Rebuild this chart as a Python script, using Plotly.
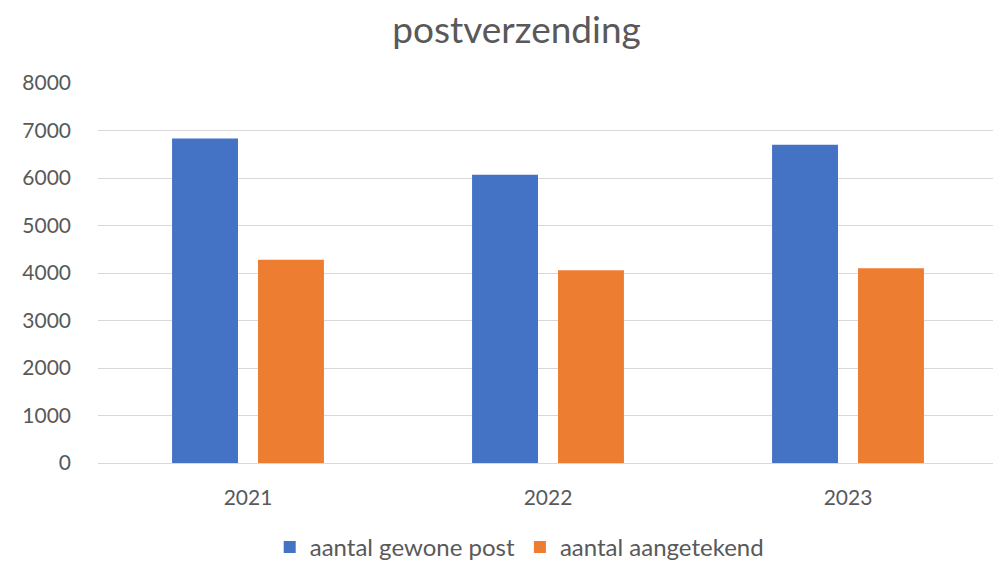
import plotly.graph_objects as go

years = ["2021", "2022", "2023"]
gewone_post = [6830, 6070, 6700]
aangetekend = [4280, 4060, 4100]
y_ticks = [0, 1000, 2000, 3000, 4000, 5000, 6000, 7000, 8000]

fig = go.Figure()
fig.add_trace(go.Bar(x=years, y=gewone_post, name="aantal gewone post",
                     marker=dict(color="#4472C4", line=dict(width=0))))
fig.add_trace(go.Bar(x=years, y=aangetekend, name="aantal aangetekend",
                     marker=dict(color="#ED7D31", line=dict(width=0))))

font_family = "Lato, Open Sans, sans-serif"
fig.update_layout(
    width=1001, height=563,
    margin=dict(l=90, r=11, t=75, b=108),
    paper_bgcolor="white", plot_bgcolor="white",
    barmode="group", bargap=0.427, bargroupgap=0.233,
    title=dict(text="postverzending", x=0.508, xanchor="center", y=0.96, yanchor="middle",
               font=dict(family=font_family, size=37, color="#595959")),
    font=dict(family=font_family, color="#595959", size=20),
    legend=dict(orientation="h", x=0.468, xanchor="center", xref="paper",
                y=0.042, yanchor="middle", yref="container",
                font=dict(size=24, color="#595959"), itemwidth=30, traceorder="normal"),
    showlegend=True,
)
fig.update_yaxes(range=[0, 8000], tickvals=y_ticks, showgrid=True, gridcolor="#d9d9d9",
                 gridwidth=1, zeroline=False, showline=False, ticks="",
                 tickfont=dict(size=21, color="#595959"), ticklabelstandoff=26)
fig.update_xaxes(showline=True, linecolor="#d9d9d9", linewidth=1, ticks="",
                 tickfont=dict(size=21, color="#595959"), ticklabelstandoff=16)

fig.write_html("out.html")
